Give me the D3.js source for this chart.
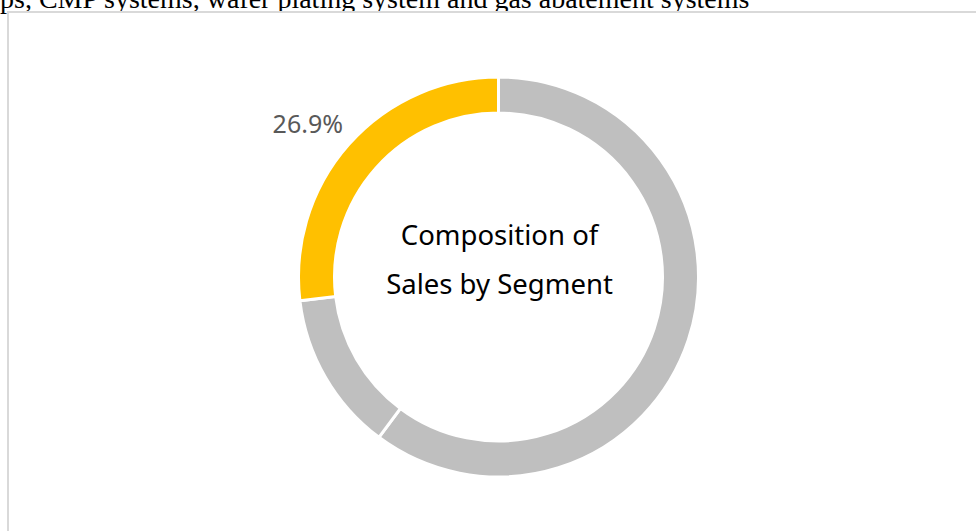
<!DOCTYPE html>
<html>
<head>
<meta charset="utf-8">
<script src="https://cdn.jsdelivr.net/npm/d3@7"></script>
<style>
  html, body { margin: 0; padding: 0; background: #fff; overflow: hidden; }
  svg { display: block; }
</style>
</head>
<body>
<svg id="chart" width="976" height="531"></svg>
<script>
// Segment shares of net sales (%), drawn clockwise from 12 o'clock
const segments = ["Fluid Machinery & Systems", "Environmental Plants", "Precision Machinery"];
const shares = [60.2, 12.9, 26.9];
const colors = ["#bfbfbf", "#bfbfbf", "#ffc000"];
const highlighted = "Precision Machinery";
const centerTitle = ["Composition of", "Sales by Segment"];
const caption = "ps, CMP systems, wafer plating system and gas abatement systems";

const svg = d3.select("#chart");
const W = 976, H = 531;

// caption line running above the framed panel
svg.append("text")
  .attr("x", 0).attr("y", 8)
  .attr("font-family", "'Liberation Serif', 'Times New Roman', serif")
  .attr("font-size", 28)
  .attr("fill", "#000")
  .text(caption);

// panel frame (continues past the right and bottom edges)
svg.append("rect")
  .attr("x", 8).attr("y", 12)
  .attr("width", W + 20).attr("height", H + 20)
  .attr("fill", "#fff")
  .attr("stroke", "#d9d9d9")
  .attr("stroke-width", 2);

const cx = 498.5, cy = 277;
const outerR = 200, innerR = 164;

const data = segments.map((s, i) => ({ name: s, value: shares[i], color: colors[i] }));

const pie = d3.pie().sort(null).value(d => d.value);
const arc = d3.arc().innerRadius(innerR).outerRadius(outerR);
const arcs = pie(data);

const g = svg.append("g").attr("transform", `translate(${cx},${cy})`);

g.selectAll("path.slice")
  .data(arcs)
  .join("path")
  .attr("class", "slice")
  .attr("d", arc)
  .attr("fill", d => d.data.color)
  .attr("stroke", "#fff")
  .attr("stroke-width", 3);

// value label for the highlighted segment, outside the ring
const labelArc = d3.arc().innerRadius(240).outerRadius(240);
g.selectAll("text.value")
  .data(arcs.filter(d => d.data.name === highlighted))
  .join("text")
  .attr("class", "value")
  .attr("x", d => labelArc.centroid(d)[0] + 24)
  .attr("y", d => labelArc.centroid(d)[1] + 15)
  .attr("text-anchor", "end")
  .attr("font-family", "'Noto Sans', 'DejaVu Sans', sans-serif")
  .attr("font-size", 25)
  .attr("fill", "#595959")
  .text(d => d3.format(".1f")(d.data.value) + "%");

// title in the hole of the ring
g.selectAll("text.title")
  .data(centerTitle)
  .join("text")
  .attr("class", "title")
  .attr("x", 1)
  .attr("y", (d, i) => -32 + i * 49)
  .attr("text-anchor", "middle")
  .attr("font-family", "'Noto Sans', 'DejaVu Sans', sans-serif")
  .attr("font-size", 27.5)
  .attr("fill", "#000")
  .text(d => d);
</script>
</body>
</html>
